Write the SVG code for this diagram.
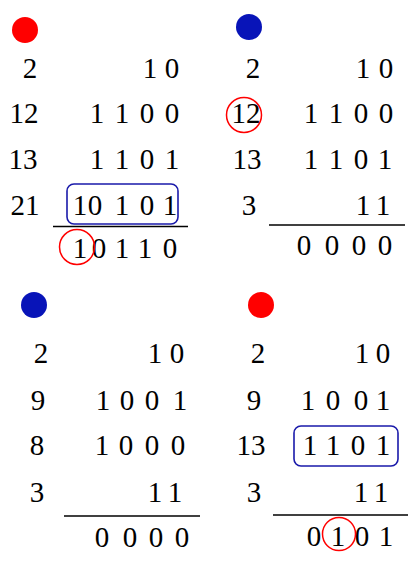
<svg xmlns="http://www.w3.org/2000/svg" width="416" height="567" viewBox="0 0 416 567">
<style>
text{font-family:"Liberation Serif","Times New Roman",serif;font-size:29px;fill:#000;text-anchor:middle}
.rc{fill:none;stroke:#ff0000;stroke-width:1.5}
.bx{fill:none;stroke:#1a1aaa;stroke-width:1.6}
.ln{stroke:#000;stroke-width:1.3}
.rd{fill:#ff0000}
.bd{fill:#0814b8}
</style>
<rect width="416" height="567" fill="#fff"/>
<g id="panel-top-left">
<circle class="rd" cx="25" cy="30" r="13"/>
<text x="30" y="78">2</text>
<text x="150 172" y="78">10</text>
<text x="24" y="123">12</text>
<text x="97 122 147 172" y="123">1100</text>
<text x="23" y="169">13</text>
<text x="97 122 147 172" y="169">1101</text>
<text x="25" y="215">21</text>
<text x="80 95 122 147 170" y="215">10101</text>
<rect class="bx" x="67" y="184" width="111" height="40" rx="7"/>
<line class="ln" x1="53" y1="226.5" x2="188" y2="226.5"/>
<text x="80 99 122 145 170" y="258">10110</text>
<circle class="rc" cx="77" cy="247" r="17.5"/>
</g>
<g id="panel-top-right">
<circle class="bd" cx="249" cy="27" r="13"/>
<text x="253" y="78">2</text>
<text x="363 386" y="78">10</text>
<text x="246" y="123">12</text>
<circle class="rc" cx="244" cy="115" r="17.5"/>
<text x="311 336 361 386" y="123">1100</text>
<text x="247" y="169">13</text>
<text x="311 336 361 385" y="169">1101</text>
<text x="249" y="215">3</text>
<text x="363 383" y="215">11</text>
<line class="ln" x1="269" y1="225" x2="405" y2="225" stroke="#555"/>
<text x="304 332 359 385" y="255">0000</text>
</g>
<g id="panel-bottom-left">
<circle class="bd" cx="34" cy="305" r="13"/>
<text x="41" y="363">2</text>
<text x="155 177" y="363">10</text>
<text x="38" y="410">9</text>
<text x="103 127 152 180" y="410">1001</text>
<text x="37" y="455">8</text>
<text x="102 126 152 178" y="455">1000</text>
<text x="37" y="502">3</text>
<text x="155 175" y="502">11</text>
<line class="ln" x1="64" y1="516" x2="200" y2="516"/>
<text x="102 130 156 182" y="547">0000</text>
</g>
<g id="panel-bottom-right">
<circle class="rd" cx="261" cy="305" r="13"/>
<text x="258" y="363">2</text>
<text x="362 383" y="363">10</text>
<text x="254" y="410">9</text>
<text x="308 333 361 383" y="410">1001</text>
<text x="251" y="455">13</text>
<text x="310 333 358 383" y="455">1101</text>
<rect class="bx" x="294" y="426" width="104" height="40" rx="7"/>
<text x="254" y="502">3</text>
<text x="361 381" y="502">11</text>
<line class="ln" x1="273" y1="515" x2="408" y2="515"/>
<text x="314 338 362 386" y="546">0101</text>
<circle class="rc" cx="339" cy="534" r="16.5"/>
</g>
</svg>
